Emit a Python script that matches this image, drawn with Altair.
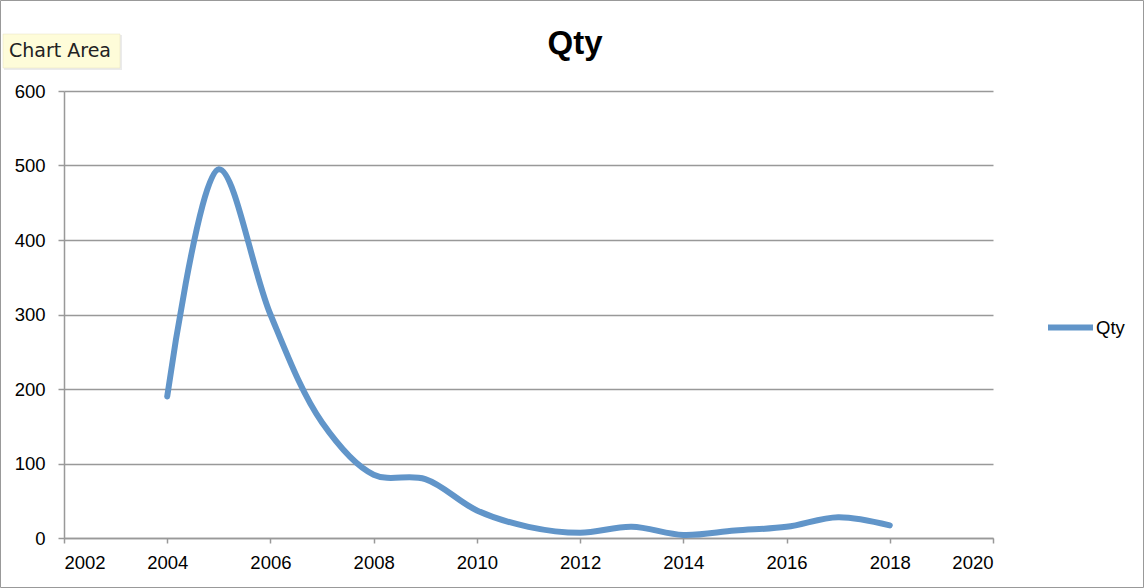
import altair as alt
import pandas as pd

years = [2004, 2005, 2006, 2007, 2008, 2009, 2010, 2011, 2012, 2013, 2014, 2015, 2016, 2017, 2018]
qty = [190, 495, 300, 155, 85, 79, 37, 15, 7, 15, 4, 10, 15, 28, 17]
series = ["Qty"] * len(years)
x_ticks = [2002, 2004, 2006, 2008, 2010, 2012, 2014, 2016, 2018, 2020]
y_ticks = [0, 100, 200, 300, 400, 500, 600]
title_text = ["Qty"]
tooltip_text = ["Chart Area"]

df = pd.DataFrame({"year": years, "qty": qty, "series": series})

PL, PT, PW, PH = 64, 91, 929, 447
W, H = 1144, 588
FONT = "Liberation Sans"
LS = 18.5

line = alt.Chart(df).mark_line(
    interpolate="catmull-rom", strokeWidth=6, strokeCap="round", strokeJoin="round"
).encode(
    x=alt.X("year:Q", scale=alt.Scale(domain=[2002, 2020], nice=False),
            axis=alt.Axis(values=x_ticks, format="d", title=None, grid=False,
                          tickSize=5, labelPadding=10, labelFontSize=LS,
                          labelFont=FONT, labelColor="black", domainColor="#999999",
                          tickColor="#999999", domainWidth=1.5, tickWidth=1.5)),
    y=alt.Y("qty:Q", scale=alt.Scale(domain=[0, 600], nice=False),
            axis=alt.Axis(values=y_ticks, title=None, grid=True, gridColor="#999999",
                          gridWidth=1.5, gridOpacity=1, tickSize=6, labelPadding=13,
                          labelFontSize=LS, labelFont=FONT, labelColor="black",
                          domainColor="#999999", tickColor="#999999",
                          domainWidth=1.5, tickWidth=1.5)),
    color=alt.Color("series:N", scale=alt.Scale(range=["#6195c9"]),
                    legend=alt.Legend(title=None, orient="none", legendX=981, legendY=211,
                                      symbolType="stroke", symbolSize=2025,
                                      symbolStrokeWidth=6, labelFontSize=LS,
                                      labelFont=FONT, labelColor="black", labelOffset=0)),
)

title_df = pd.DataFrame({"t": title_text})
title = alt.Chart(title_df).mark_text(
    align="center", baseline="alphabetic", fontSize=33, font=FONT, fontWeight="bold", color="black"
).encode(x=alt.value(575 - PL), y=alt.value(54 - PT), text="t:N")

ann_df = pd.DataFrame({"t": tooltip_text})
ann_shadow = alt.Chart(ann_df).mark_rect(
    fill="#000000", opacity=0.08
).encode(x=alt.value(4 - PL), x2=alt.value(122 - PL), y=alt.value(35 - PT), y2=alt.value(70 - PT))
ann_box = alt.Chart(ann_df).mark_rect(
    fill="#fefcd9", stroke="#e6e3c0", strokeWidth=0.5
).encode(x=alt.value(3 - PL), x2=alt.value(120 - PL), y=alt.value(34 - PT), y2=alt.value(68 - PT))
ann_text = alt.Chart(ann_df).mark_text(
    align="left", baseline="middle", fontSize=19, font="DejaVu Sans", color="#222222"
).encode(x=alt.value(9 - PL), y=alt.value(51 - PT), text="t:N")

frame = alt.Chart(ann_df).mark_rect(
    fill=None, stroke="#999999", strokeWidth=1
).encode(x=alt.value(0.5 - PL), x2=alt.value(W - 0.5 - PL), y=alt.value(0.5 - PT), y2=alt.value(H - 0.5 - PT))

chart = alt.layer(frame, line, title, ann_shadow, ann_box, ann_text).properties(
    width=PW, height=PH,
    autosize=alt.AutoSizeParams(type="none"),
    padding={"left": PL, "top": PT, "right": W - PL - PW, "bottom": H - PT - PH},
    background="white",
).configure_view(stroke=None)

chart.save("out.html", embed_options={"renderer": "svg", "actions": False})
